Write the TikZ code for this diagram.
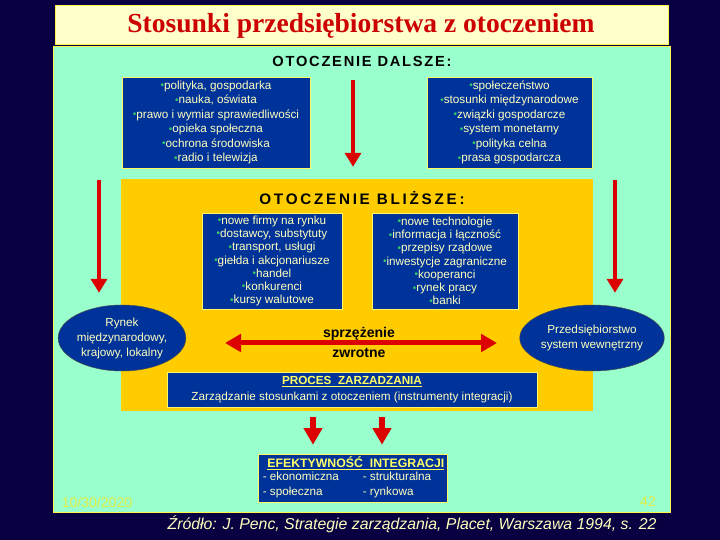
\documentclass[tikz,border=0pt]{standalone}
\usepackage{fontspec}
\setmainfont{Liberation Sans}
\newfontfamily\titlefont{Liberation Serif}
\usepackage{xcolor}
\usepackage{tikz}
\usetikzlibrary{arrows.meta,positioning,shapes.geometric}

\definecolor{navybg}{RGB}{8,0,64}
\definecolor{titlecream}{RGB}{255,255,204}
\definecolor{titlered}{RGB}{204,0,0}
\definecolor{aquabg}{RGB}{153,255,204}
\definecolor{goldbg}{RGB}{255,204,0}
\definecolor{boxblue}{RGB}{0,51,153}
\definecolor{txtcream}{RGB}{255,255,190}
\definecolor{bulletgreen}{RGB}{51,204,102}
\definecolor{arrowred}{RGB}{221,0,0}
\definecolor{headyellow}{RGB}{255,255,102}
\definecolor{dateyellow}{RGB}{225,235,70}

\newcommand{\itm}[1]{\raisebox{0.05em}{\color{bulletgreen}\fontsize{8.5}{8}\selectfont\textbullet}#1}

\begin{document}
\begin{tikzpicture}[x=0.03cm, y=-0.03cm,
    panel/.style={rectangle, draw=yellow!70!white, line width=0.5pt, inner sep=0pt},
    bluebox/.style={rectangle, draw=yellow!60!white, line width=0.5pt, fill=boxblue,
                    text=txtcream, align=center, inner sep=1pt},
    oval/.style={ellipse, draw=black!70, fill=boxblue, text=txtcream, align=center,
                 minimum width=3.36cm, minimum height=1.98cm, inner sep=0pt,
                 font=\fontsize{10}{12.8}\selectfont},
    heading/.style={font=\fontsize{12.5}{14}\selectfont\bfseries\addfontfeature{LetterSpace=12}},
    redarr/.style={draw=arrowred, line width=0.12cm,
                   -{Triangle[length=0.42cm, width=0.48cm]}},
    fatarr/.style={draw=arrowred, line width=0.18cm,
                   -{Triangle[length=0.5cm, width=0.54cm]}},
]
    % background and title
    \fill[navybg] (0,0) rectangle (720,540);
    \node[panel, fill=titlecream, minimum width=18.39cm, minimum height=1.17cm] (titlebox) at (361.5,24.5) {};
    \node[text=titlered, font=\titlefont\fontsize{23.5}{26}\selectfont\bfseries] (title) at (361,26) {Stosunki przedsiębiorstwa z otoczeniem};

    % outer and inner panels
    \node[panel, fill=aquabg, minimum width=18.51cm, minimum height=13.98cm] (far) at (361.5,279) {};
    \node[rectangle, fill=goldbg, inner sep=0pt, minimum width=14.16cm, minimum height=6.96cm] (near) at (357,295) {};

    \node[heading] (farhead) at (362,61) {OTOCZENIE DALSZE:};
    \node[heading, font=\fontsize{13}{14}\selectfont\bfseries\addfontfeature{LetterSpace=18}] (nearhead) at (362,198) {OTOCZENIE BLIŻSZE:};

    % far environment boxes
    \node[bluebox, minimum width=5.64cm, minimum height=2.73cm, font=\fontsize{10}{12.4}\selectfont] (farL) at (216,122.5) {%
        \itm{polityka, gospodarka}\\ \itm{nauka, oświata}\\ \itm{prawo i wymiar sprawiedliwości}\\
        \itm{opieka społeczna}\\ \itm{ochrona środowiska}\\ \itm{radio i telewizja}};
    \node[bluebox, minimum width=4.95cm, minimum height=2.73cm, font=\fontsize{10}{12.4}\selectfont] (farR) at (509.5,122.5) {%
        \itm{społeczeństwo}\\ \itm{stosunki międzynarodowe}\\ \itm{związki gospodarcze}\\
        \itm{system monetarny}\\ \itm{polityka celna}\\ \itm{prasa gospodarcza}};

    % near environment boxes
    \node[bluebox, minimum width=4.2cm, minimum height=2.88cm, font=\fontsize{10}{11.3}\selectfont] (nearL) at (272,261) {%
        \itm{nowe firmy na rynku}\\ \itm{dostawcy, substytuty}\\ \itm{transport, usługi}\\
        \itm{giełda i akcjonariusze}\\ \itm{handel}\\ \itm{konkurenci}\\ \itm{kursy walutowe}};
    \node[bluebox, minimum width=4.38cm, minimum height=2.88cm, font=\fontsize{10}{11.3}\selectfont] (nearR) at (445,261) {%
        \itm{nowe technologie}\\ \itm{informacja i łączność}\\ \itm{przepisy rządowe}\\
        \itm{inwestycje zagraniczne}\\ \itm{kooperanci}\\ \itm{rynek pracy}\\ \itm{banki}};

    % ovals
    \node[oval] (market) at (122,338) {Rynek\\ międzynarodowy,\\ krajowy, lokalny};
    \node[oval] (firm) at (592,338) {Przedsiębiorstwo\\ system wewnętrzny};

    % feedback
    \coordinate (fbL) at (225,343);
    \coordinate (fbR) at (497,343);
    \coordinate (fbmid) at (359,343);
    \draw[draw=arrowred, line width=0.15cm, {Triangle[length=0.48cm, width=0.52cm]}-{Triangle[length=0.48cm, width=0.52cm]}] (fbL) -- (fbR);
    \node[font=\fontsize{12}{14}\selectfont\bfseries, above=-0.06cm of fbmid] (fb1) {sprzężenie};
    \node[font=\fontsize{12}{14}\selectfont\bfseries, below=0.03cm of fbmid] (fb2) {zwrotne};

    % management process
    \node[bluebox, minimum width=11.1cm, minimum height=1.05cm, font=\fontsize{10}{14}\selectfont] (proc) at (352,389.5) {%
        {\color{headyellow}\bfseries\underline{PROCES\ \ ZARZADZANIA}}\\
        Zarządzanie stosunkami z otoczeniem (instrumenty integracji)};

    % integration efficiency
    \node[bluebox, minimum width=5.67cm, minimum height=1.44cm, font=\fontsize{10}{12.5}\selectfont] (eff) at (352.5,478) {%
        \begin{tabular}{@{}p{3cm}@{}l@{\hspace{0.33cm}}}
        \multicolumn{2}{@{}c@{}}{\makebox[0pt]{\hspace{0.2cm}\color{headyellow}\fontsize{10.5}{13}\selectfont\bfseries\underline{EFEKTYWNOŚĆ\ \ INTEGRACJI}}}\\[-1pt]
        - ekonomiczna & - strukturalna\\
        - społeczna & - rynkowa
        \end{tabular}};

    % arrows
    \coordinate (midtop) at (353,80);
    \coordinate (lefttop) at (99,180);
    \coordinate (righttop) at (615,180);
    \coordinate (down1) at (313,417);
    \coordinate (down2) at (382,417);
    \draw[redarr, shorten >=0.36cm] (midtop) -- (midtop |- near.north);
    \draw[redarr, shorten >=0.36cm] (lefttop) -- (lefttop |- market.north);
    \draw[redarr, shorten >=0.36cm] (righttop) -- (righttop |- firm.north);
    \draw[fatarr, shorten >=0.27cm] (down1) -- (down1 |- eff.north);
    \draw[fatarr, shorten >=0.27cm] (down2) -- (down2 |- eff.north);

    % footer
    \node[text=dateyellow, font=\fontsize{12}{14}\selectfont] (date) at (97,502) {10/30/2020};
    \node[text=dateyellow, font=\fontsize{12}{14}\selectfont] (page) at (648,502) {42};
    \node[text=txtcream, font=\fontsize{13.5}{15}\selectfont\itshape] (src) at (412,524) {Źródło: J. Penc, Strategie zarządzania, Placet, Warszawa 1994, s. 22};
\end{tikzpicture}
\end{document}
